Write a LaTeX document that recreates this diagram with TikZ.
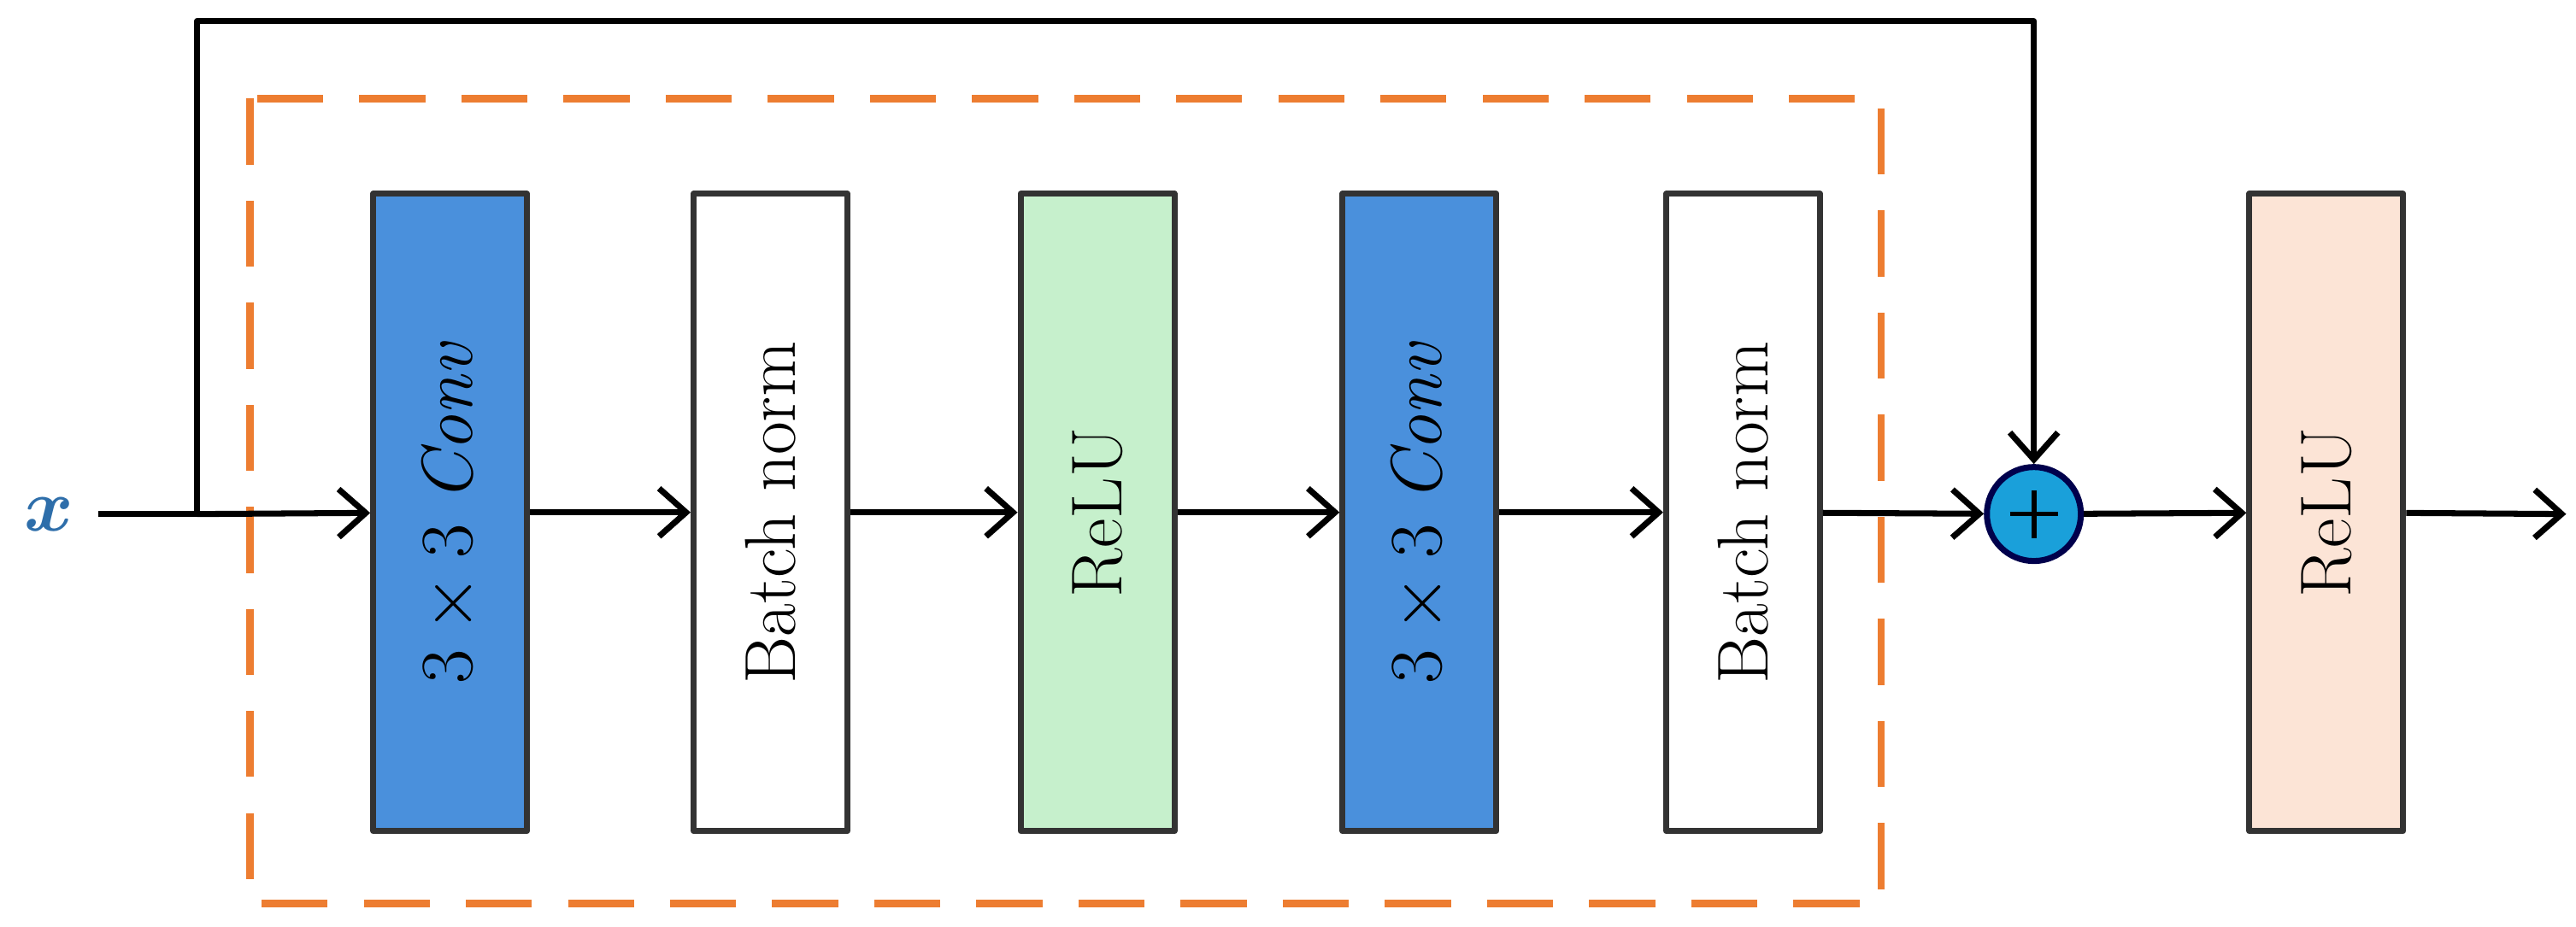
\documentclass[tikz,border=0pt]{standalone}
\usepackage{amsmath,bm}
\usetikzlibrary{arrows.meta}
\definecolor{convblue}{RGB}{74,144,220}
\definecolor{relugreen}{RGB}{198,240,204}
\definecolor{relupeach}{RGB}{252,228,214}
\definecolor{dashorange}{RGB}{237,125,49}
\definecolor{plusblue}{RGB}{26,160,218}
\definecolor{xblue}{RGB}{46,110,170}
\begin{document}
\begin{tikzpicture}[x=0.01922cm,y=-0.01922cm,line join=round,
  blk/.style={draw=black!80,line width=2pt,minimum width=1.8cm,minimum height=7.46cm,inner sep=0pt},
  lbl/.style={rotate=90,font=\fontsize{24}{28}\selectfont},
  arr/.style={line width=2pt,-{Straight Barb[length=9pt,width=16pt,line width=2pt]}}]
  \useasboundingbox (0,0) rectangle (1568,564);
  \draw[dashorange,line width=2.5pt,dash pattern=on 22pt off 12pt] (152,60) rectangle (1145,550);
  \node[blk,fill=convblue] (C1) at (274,312) {};
  \node[lbl] at (C1) {$3\times3$ \textit{Conv}};
  \node[blk,fill=white] (B1) at (469,312) {};
  \node[lbl] at (B1) {Batch\ norm};
  \node[blk,fill=relugreen] (R1) at (668,312) {};
  \node[lbl] at (R1) {ReLU};
  \node[blk,fill=convblue] (C2) at (864,312) {};
  \node[lbl] at (C2) {$3\times3$ \textit{Conv}};
  \node[blk,fill=white] (B2) at (1061,312) {};
  \node[lbl] at (B2) {Batch\ norm};
  \node[blk,fill=relupeach] (R2) at (1416,312) {};
  \node[lbl] at (R2) {ReLU};
  \node[circle,draw=black!70!blue,line width=2pt,fill=plusblue,minimum size=1.1cm,inner sep=0pt] (add) at (1238,313) {};
  \draw[line width=1.6pt] ([xshift=-8pt]add.center) -- ([xshift=8pt]add.center)
    ([yshift=-8pt]add.center) -- ([yshift=8pt]add.center);
  \node[text=xblue,font=\fontsize{30}{30}\selectfont] (x) at (30,313) {$\bm{x}$};
  \coordinate (split) at (120,313);
  \coordinate (out) at (1562,313);
  \draw[line width=2pt] (60,313) -- (split);
  \draw[arr] (split) -- (C1);
  \draw[arr] (C1) -- (B1);
  \draw[arr] (B1) -- (R1);
  \draw[arr] (R1) -- (C2);
  \draw[arr] (C2) -- (B2);
  \draw[arr] (B2) -- (add);
  \draw[arr] (add) -- (R2);
  \draw[arr] (R2) -- (out);
  \draw[arr] (split) |- (1238,13) -- (add);
\end{tikzpicture}
\end{document}
